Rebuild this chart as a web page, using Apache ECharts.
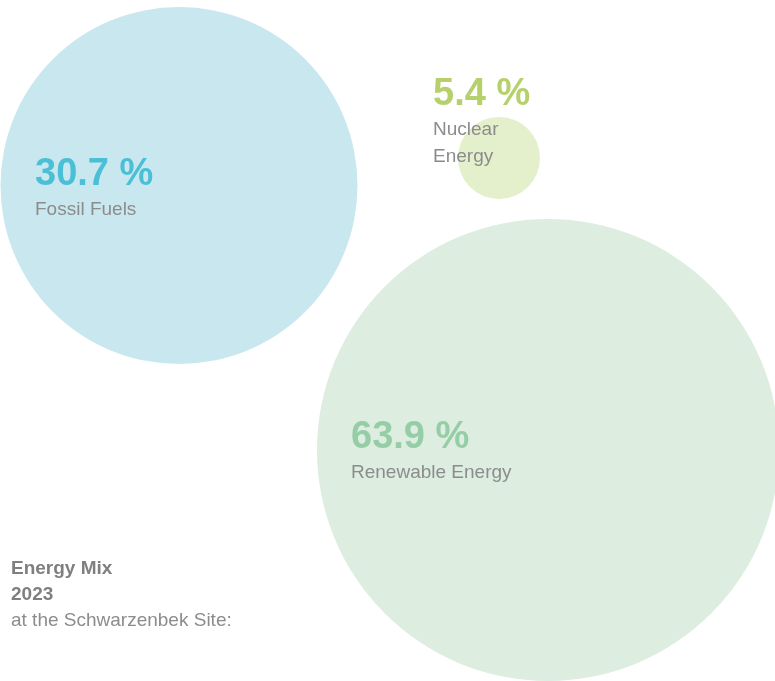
<!DOCTYPE html>
<html>
<head>
<meta charset="utf-8">
<title>Energy Mix 2023</title>
<script src="https://cdn.jsdelivr.net/npm/echarts@6/dist/echarts.min.js"></script>
<style>
  html, body { margin: 0; padding: 0; background: #fff; }
  #chart { width: 775px; height: 681px; }
</style>
</head>
<body>
<div id="chart"></div>
<script>
// share of each source in the 2023 energy mix (percent)
const categories = ['Fossil Fuels', 'Nuclear\nEnergy', 'Renewable Energy'];
const shares = [30.7, 5.4, 63.9];

// where the bubbles sit on the (hidden) plane and how big they are
const bubbleX = [179, 499, 548];
const bubbleY = [185.5, 158, 450];
const bubbleSize = [357, 82, 462];

const titleLines = ['Energy Mix', '2023'];
const subtitle = 'at the Schwarzenbek Site:';

const fillColors = ['#c8e7ef', '#e4efcb', '#ddede0'];
const numberColors = ['#4bbfd6', '#b6d16b', '#95cea6'];
// label anchor, relative to the top-left of each bubble's box
const labelPos = [[34.5, 146], [-25, -44], [34, 197.5]];

const FONT = '"Liberation Sans", Arial, Helvetica, sans-serif';
const GREY = '#8c8c8c';

const chart = echarts.init(document.getElementById('chart'));

const data = shares.map((v, i) => {
  const nameLines = categories[i].split('\n').map(s => `{name|${s}}`).join('\n');
  return {
    name: categories[i],
    value: [bubbleX[i], bubbleY[i], v],
    symbolSize: bubbleSize[i],
    itemStyle: { color: fillColors[i], opacity: 1 },
    label: {
      show: true,
      position: labelPos[i],
      align: 'left',
      verticalAlign: 'top',
      formatter: `{num|${v.toFixed(1)} %}\n` + nameLines,
      rich: {
        num: {
          fontFamily: FONT,
          fontSize: 38,
          fontWeight: 'bold',
          color: numberColors[i],
          lineHeight: 43,
        },
        name: {
          fontFamily: FONT,
          fontSize: 19,
          fontWeight: 'normal',
          color: GREY,
          lineHeight: 27,
        },
      },
    },
  };
});

const option = {
  backgroundColor: '#ffffff',
  animation: false,
  title: {
    left: 11,
    top: 556,
    padding: 0,
    text: titleLines.map(s => `{b|${s}}`).join('\n') + `\n{n|${subtitle}}`,
    textStyle: {
      fontWeight: 'normal',
      rich: {
        b: { fontFamily: FONT, fontSize: 19, fontWeight: 'bold', color: '#7f7f7f', lineHeight: 26 },
        n: { fontFamily: FONT, fontSize: 19, fontWeight: 'normal', color: GREY, lineHeight: 26 },
      },
    },
  },
  grid: { left: 0, right: 0, top: 0, bottom: 0 },
  xAxis: { type: 'value', min: 0, max: 775, show: false },
  yAxis: { type: 'value', min: 0, max: 681, inverse: true, show: false },
  series: [
    {
      type: 'scatter',
      clip: false,
      silent: true,
      symbol: 'circle',
      emphasis: { disabled: true },
      data: data,
    },
  ],
};

chart.setOption(option);
window.addEventListener('resize', () => chart.resize());
</script>
</body>
</html>
